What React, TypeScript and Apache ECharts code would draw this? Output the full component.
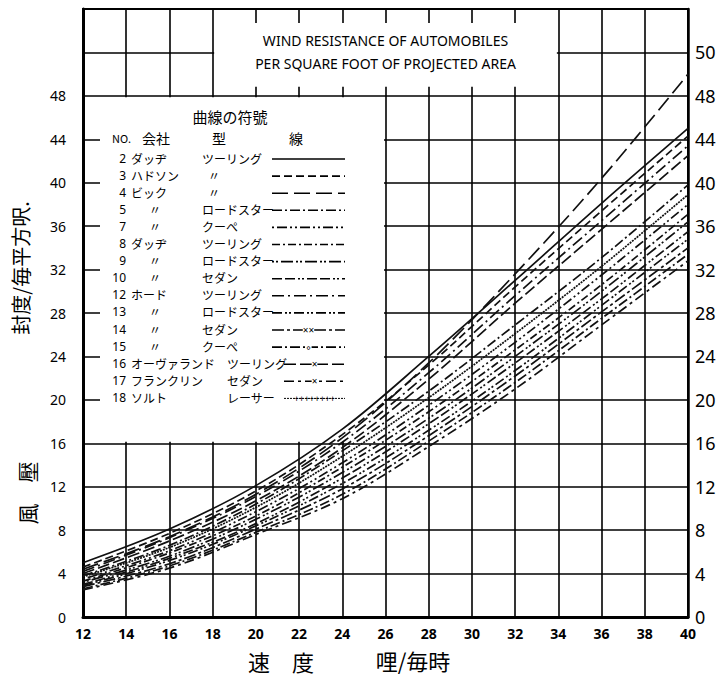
import React, { useEffect, useRef } from 'react';
import * as echarts from 'echarts';

// Speeds (miles per hour) at which the curves were read
const speeds = [12, 16, 20, 24, 28, 32, 36, 40];

// Wind pressure (lb / sq ft of projected area)
const car2 = [5.0, 8.1, 12.1, 17.3, 24.0, 31.0, 38.1, 45.0];
const car3 = [4.6, 7.7, 11.6, 16.8, 23.2, 30.4, 37.4, 44.3];
const car4 = [4.4, 7.4, 11.3, 16.5, 23.4, 31.6, 40.4, 50.0];
const car5 = [3.8, 6.6, 10.4, 15.3, 20.8, 26.9, 33.1, 39.8];
const car7 = [3.5, 6.1, 9.7, 14.2, 19.5, 25.3, 31.5, 38.0];
const car8 = [3.3, 5.9, 9.3, 13.8, 18.9, 24.6, 30.6, 37.1];
const car9 = [3.2, 5.6, 9.0, 13.3, 18.3, 24.0, 30.0, 36.4];
const car10 = [3.0, 5.4, 8.6, 12.8, 17.8, 23.4, 29.3, 35.5];
const car12 = [4.2, 7.3, 11.1, 16.1, 22.5, 29.6, 36.5, 43.4];
const car13 = [2.9, 5.2, 8.4, 12.3, 17.2, 22.7, 28.7, 34.8];
const car14 = [2.8, 4.9, 8.1, 11.8, 16.7, 22.2, 28.1, 34.0];
const car15 = [2.6, 4.7, 7.8, 11.3, 16.2, 21.6, 27.5, 33.4];
const car16 = [4.0, 7.0, 10.7, 15.6, 21.9, 28.9, 35.7, 42.5];
const car17 = [2.5, 4.5, 7.6, 10.9, 15.7, 21.0, 26.9, 32.8];
const car18 = [3.7, 6.4, 10.1, 14.8, 20.2, 26.1, 32.3, 38.9];

// Legend table
const carNos = ['2', '3', '4', '5', '7', '8', '9', '10', '12', '13', '14', '15', '16', '17', '18'];
const companies = ['ダッヂ', 'ハドソン', 'ビック', '〃', '〃', 'ダッヂ', '〃', '〃', 'ホード', '〃', '〃', '〃', 'オーヴァランド', 'フランクリン', 'ソルト'];
const bodyTypes = ['ツーリング', '〃', '〃', 'ロードスター', 'クーペ', 'ツーリング', 'ロードスター', 'セダン', 'ツーリング', 'ロードスター', 'セダン', 'クーペ', 'ツーリング', 'セダン', 'レーサー'];
const seriesValues = [car2, car3, car4, car5, car7, car8, car9, car10, car12, car13, car14, car15, car16, car17, car18];

// Axis tick labels
const leftTickMax = 48;
const rightRelabel: Record<number, string> = { 52: '50' };

// Title
const titleLines = ['WIND RESISTANCE OF AUTOMOBILES', 'PER SQUARE FOOT OF PROJECTED AREA'];
const legendTitle = '曲線の符號';
const legendHeaders = ['NO.', '会社', '型', '線'];
const xName1 = '速　度';
const xName2 = '哩/毎時';
const yName1 = '風　壓';
const yName2 = '封度/毎平方呎.';

// Styles
const dashes: (string | number[])[] = [
  'solid', [8, 4], [16, 6], [10, 3, 2, 3], [2, 3, 10, 3, 2, 3], [8, 3, 2, 3], [2, 2, 2, 3, 12, 3],
  [10, 3, 10, 3, 2, 2, 2, 3], [12, 4, 2, 4], [10, 3, 2, 2, 2, 3], [12, 3, 3, 3], [10, 3, 2, 3],
  [12, 4], [10, 4, 3, 4], [2, 1],
];
const sampleMarks = ['', '', '', '', '', '', '', '', '', '', '××', '∘', '×', '×', '++++++++'];

const JP = '"Noto Sans CJK JP", "Noto Sans", sans-serif';
const SANS = '"Noto Sans", "DejaVu Sans", sans-serif';

export default function App() {
  const ref = useRef<HTMLDivElement>(null);
  useEffect(() => {
    const chart = echarts.init(ref.current!, null, { renderer: 'svg' });
    const series = carNos.map((no, i) => ({
      name: no,
      type: 'line',
      data: speeds.map((s, j) => [s, seriesValues[i][j]]),
      smooth: 0.35,
      symbol: 'none',
      z: 3,
      lineStyle: { color: '#111', width: 1.7, type: dashes[i] },
    }));
    chart.setOption({
      animation: false,
      grid: {
        left: 83, right: 32, top: 9, bottom: 60,
        show: true, borderColor: '#000', borderWidth: 2,
        outerBoundsMode: 'none',
      },
      xAxis: {
        type: 'value', min: 12, max: 40, interval: 2,
        axisLine: { show: true, lineStyle: { color: '#000', width: 3 } },
        axisTick: { show: false },
        axisLabel: { color: '#000', fontSize: 14, fontWeight: 'bold', margin: 9, fontFamily: SANS },
        splitLine: { show: true, lineStyle: { color: '#000', width: 1.6 } },
      },
      yAxis: [
        {
          type: 'value', min: 0, max: 56, interval: 4, position: 'left',
          axisLine: { show: true, lineStyle: { color: '#000', width: 3 } },
          axisTick: { show: false },
          axisLabel: {
            color: '#000', fontSize: 14, margin: 17, fontFamily: SANS,
            formatter: (v: number) => (v <= leftTickMax ? String(v) : ''),
          },
          splitLine: { show: true, lineStyle: { color: '#000', width: 1.6 } },
        },
        {
          type: 'value', min: 0, max: 56, interval: 4, position: 'right',
          axisLine: { show: true, lineStyle: { color: '#000', width: 2.5 } },
          axisTick: { show: false },
          axisLabel: {
            color: '#000', fontSize: 18, margin: 7, fontFamily: SANS, padding: [0, 0, 12, 0],
            formatter: (v: number) => (rightRelabel[v] ?? (v <= leftTickMax ? String(v) : '')),
          },
          splitLine: { show: false },
        },
      ],
      series,
    });

    const px = (x: number, y: number) => chart.convertToPixel({ gridIndex: 0 }, [x, y]) as number[];
    const [x12, y48] = px(12, 48);
    const [x26, y16] = px(26, 16);
    const [x18, yTop] = px(18, 56);
    const [x34] = px(34, 56);

    const txt = (x: number, y: number, text: string, fontSize: number, family: string, align: string, extra: any = {}) => ({
      type: 'text', z: 10, x, y, ...extra,
      style: {
        text, fontSize, fontFamily: family, fill: '#000', align, verticalAlign: 'middle',
        lineHeight: Math.round(fontSize * 1.1),
      },
    });

    const elements: any[] = [];
    // white legend panel (hides grid)
    elements.push({
      type: 'rect', z: 1, silent: true,
      shape: { x: x12 + 17, y: y48 + 1.5, width: x26 - x12 - 18.5, height: y16 - y48 - 3 },
      style: { fill: '#fff' },
    });
    // white title panel
    elements.push({
      type: 'rect', z: 1, silent: true,
      shape: { x: x18 + 1.5, y: yTop + 14, width: x34 - x18 - 3, height: y48 - yTop - 23 },
      style: { fill: '#fff' },
    });
    const tcx = (x18 + x34) / 2;
    titleLines.forEach((t, i) => {
      elements.push(txt(tcx, 40 + i * 23, t, 14, SANS, 'center'));
    });
    // legend title & headers
    elements.push(txt(230, 116, legendTitle, 15, JP, 'center'));
    const headerX = [112, 142, 219, 296];
    legendHeaders.forEach((h, i) => {
      elements.push(txt(headerX[i], 138, h, i === 0 ? 11 : 14, JP, i >= 2 ? 'center' : 'left'));
    });
    const rowY0 = 158;
    const rowStep = 17.1;
    carNos.forEach((no, i) => {
      const y = rowY0 + i * rowStep;
      const longRow = i >= 12;
      elements.push(txt(126, y, no, 12, SANS, 'right'));
      const comp = companies[i];
      elements.push(txt(comp === '〃' ? 155 : 131, y, comp, 12, JP, comp === '〃' ? 'center' : 'left'));
      const bt = bodyTypes[i];
      elements.push(txt(bt === '〃' ? 214 : (longRow ? 227 : 202), y, bt, 12, JP, bt === '〃' ? 'center' : 'left'));
      const sx0 = longRow ? 284 : 272;
      const sx1 = 345;
      const d = dashes[i];
      elements.push({
        type: 'line', z: 10,
        shape: { x1: sx0, y1: y + 1, x2: sx1, y2: y + 1 },
        style: { stroke: '#000', lineWidth: i === 14 ? 1 : 1.6, lineDash: Array.isArray(d) ? d : null },
      });
      if (sampleMarks[i]) {
        elements.push({
          type: 'text', z: 11, x: (sx0 + sx1) / 2, y: y + 1,
          style: {
            text: sampleMarks[i], fontSize: i === 14 ? 9 : 10, fontFamily: SANS, fill: '#000',
            align: 'center', verticalAlign: 'middle', lineHeight: 10,
            backgroundColor: i === 14 ? undefined : '#fff',
          },
        });
      }
    });
    // axis names
    elements.push(txt(281, 661, xName1, 22, JP, 'center'));
    elements.push(txt(413, 660, xName2, 22, JP, 'center'));
    elements.push(txt(27, 493, yName1, 21, JP, 'center', { rotation: Math.PI / 2 }));
    elements.push(txt(20, 268, yName2, 20, JP, 'center', { rotation: Math.PI / 2 }));

    chart.setOption({ graphic: { elements } });
    return () => chart.dispose();
  }, []);
  return (
    <div
      ref={ref}
      style={{ position: 'fixed', left: 0, top: 0, width: 720, height: 677, background: '#fff' }}
    />
  );
}
